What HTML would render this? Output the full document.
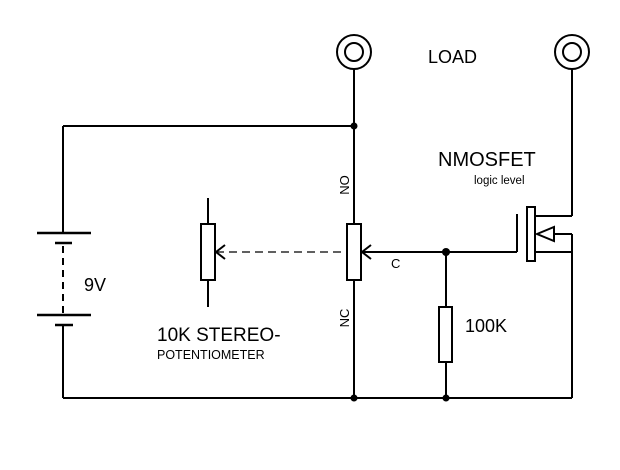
<!DOCTYPE html>
<html><head><style>body{margin:0;background:#fff}</style></head><body>
<svg width="620" height="465" viewBox="0 0 620 465" xmlns="http://www.w3.org/2000/svg" font-family="Liberation Sans, sans-serif">
<g stroke="#000" stroke-width="2" fill="none">
<line x1="63" y1="126" x2="63" y2="233"/>
<line x1="37" y1="233" x2="91" y2="233" stroke-width="2.5"/>
<line x1="55" y1="243" x2="72" y2="243" stroke-width="2.5"/>
<line x1="63" y1="246" x2="63" y2="315" stroke-dasharray="7,5"/>
<line x1="37" y1="315" x2="91" y2="315" stroke-width="2.5"/>
<line x1="55" y1="325" x2="73" y2="325" stroke-width="2.5"/>
<line x1="63" y1="325" x2="63" y2="398"/>
<line x1="63" y1="126" x2="354" y2="126"/>
<line x1="63" y1="398" x2="572" y2="398"/>
<line x1="354" y1="69" x2="354" y2="224"/>
<line x1="354" y1="280" x2="354" y2="398"/>
<rect x="347" y="224" width="14" height="56"/>
<line x1="362" y1="252" x2="517" y2="252"/>
<polyline points="371,245 362,252 371,259"/>
<line x1="208" y1="198" x2="208" y2="224"/>
<line x1="208" y1="280" x2="208" y2="307"/>
<rect x="201" y="224" width="14" height="56"/>
<polyline points="225,245 216,252 225,259"/>
<line x1="216" y1="252" x2="347" y2="252" stroke-width="1.3" stroke-dasharray="8,5"/>
<line x1="517" y1="214" x2="517" y2="252"/>
<rect x="527" y="207" width="8" height="54"/>
<line x1="535" y1="216" x2="572" y2="216"/>
<line x1="572" y1="69" x2="572" y2="216"/>
<line x1="554" y1="234" x2="572" y2="234"/>
<polygon points="537,234 554,227 554,241"/>
<line x1="535" y1="252" x2="572" y2="252"/>
<line x1="572" y1="234" x2="572" y2="398"/>
<line x1="446" y1="252" x2="446" y2="307"/>
<rect x="439" y="307" width="13" height="55"/>
<line x1="446" y1="362" x2="446" y2="398"/>
<circle cx="354" cy="52" r="17"/><circle cx="354" cy="52" r="9"/>
<circle cx="572" cy="52" r="17"/><circle cx="572" cy="52" r="9"/>
</g>
<g fill="#000">
<circle cx="354" cy="126" r="3.5"/><circle cx="354" cy="398" r="3.5"/>
<circle cx="446" cy="398" r="3.5"/><circle cx="446" cy="252" r="4"/>
<text x="428" y="63" font-size="18">LOAD</text>
<text x="438" y="166" font-size="20">NMOSFET</text>
<text x="474" y="184" font-size="11.5">logic level</text>
<text x="391" y="268" font-size="13">C</text>
<text x="465" y="332" font-size="18">100K</text>
<text x="84" y="291" font-size="18">9V</text>
<text x="157" y="341" font-size="19">10K  STEREO-</text>
<text x="157" y="359" font-size="12.5">POTENTIOMETER</text>
<text transform="translate(349,185) rotate(-90)" font-size="13" text-anchor="middle">NO</text>
<text transform="translate(349,318) rotate(-90)" font-size="13" text-anchor="middle">NC</text>
</g>
</svg>
</body></html>
